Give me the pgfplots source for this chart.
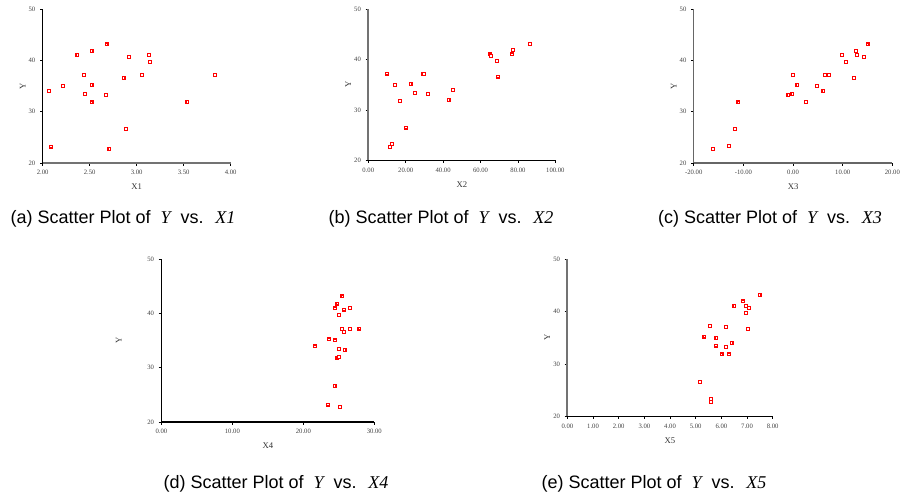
\documentclass[border=0pt]{standalone}
\usepackage{pgfplots}
\pgfplotsset{compat=1.18}
\usepackage{fontspec}
\setmainfont{Liberation Sans}
\newfontfamily\tms{Liberation Serif}

% hollow red square drawn from two fills
\pgfdeclareplotmark{hsq}{%
  \pgfpathrectangle{\pgfpoint{-1.5pt}{-1.5pt}}{\pgfpoint{3pt}{3pt}}%
  \pgfsetfillcolor{red}\pgfusepathqfill
  \pgfpathrectangle{\pgfpoint{-0.65pt}{-0.65pt}}{\pgfpoint{1.3pt}{1.3pt}}%
  \pgfsetfillcolor{white}\pgfusepathqfill}

\pgfplotsset{
  sp/.style={
    scale only axis,
    anchor=south west,
    axis x line*=bottom,
    axis y line*=left,
    axis line style={-},
    ymin=20, ymax=50,
    ytick={20,30,40,50},
    tick align=outside,
    major tick length=2pt,
    tick style={black, line width=0.5pt},
    /pgf/number format/assume math mode=true,
    ticklabel style={font=\tms\fontsize{5}{5}\selectfont, text=black!75},
    xticklabel style={/pgf/number format/.cd, fixed, fixed zerofill, precision=2},
    yticklabel style={/pgf/number format/.cd, fixed, precision=0},
    label style={font=\tms\fontsize{6.5}{7}\selectfont, text=black!80},
    xlabel style={at={(axis description cs:0.5,0)}, anchor=center, yshift=-18pt},
    ylabel style={at={(axis description cs:0,0.5)}, anchor=center, rotate=0, yshift=15pt},
    ylabel={Y},
  },
  pts/.style={only marks, mark=hsq, red},
}

\newcommand{\plotcap}[2]{\fontsize{13.5}{15}\selectfont(#1) Scatter Plot of \ {\tms\itshape Y} \ vs. \ {\tms\itshape X#2}}

\begin{document}
\begin{tikzpicture}
\path (0,0) rectangle (690pt,374.25pt);

% (a) X1
\begin{axis}[sp, at={(32pt,252pt)}, width=141pt, height=115.5pt,
  xmin=2, xmax=4, xtick={2,2.5,3,3.5,4}, xlabel={X1},
  x axis line style={line width=1pt, black!55}, y axis line style={line width=0.7pt, black}]
\addplot[pts] coordinates {
(2.07,34.0) (2.085,23.2) (2.22,35.0) (2.37,41.0) (2.44,37.2) (2.45,33.5)
(2.52,41.8) (2.52,35.2) (2.52,31.8) (2.68,43.1) (2.67,33.2) (2.71,22.7)
(2.86,36.6) (2.89,26.6) (2.92,40.7) (3.06,37.1) (3.13,41.0) (3.14,39.7)
(3.54,31.9) (3.83,37.1)
};
\end{axis}

% (b) X2
\begin{axis}[sp, at={(276.2pt,254pt)}, width=140.3pt, height=113.5pt,
  xmin=0, xmax=100, xtick={0,20,40,60,80,100}, xlabel={X2},
  x axis line style={line width=0.7pt, black}, y axis line style={line width=1.2pt, black!55}]
\addplot[pts] coordinates {
(10.2,37.2) (11.8,22.7) (12.5,23.2) (14.4,34.9) (16.9,31.7) (20.3,26.5)
(22.6,35.2) (24.9,33.4) (29.2,37.1) (29.9,37.1) (32.1,33.1) (42.9,31.9)
(45.1,33.9) (65.2,41.0) (65.7,40.7) (68.7,39.7) (69.3,36.6) (76.9,41.0)
(77.5,41.8) (86.4,43.1)
};
\end{axis}

% (c) X3
\begin{axis}[sp, at={(520.3pt,252pt)}, width=149pt, height=115.5pt,
  xmin=-20, xmax=20, xtick={-20,-10,0,10,20}, xlabel={X3},
  x axis line style={line width=0.9pt, black!60}, y axis line style={line width=1pt, black!60}]
\addplot[pts] coordinates {
(-16.1,22.7) (-12.9,23.3) (-11.7,26.6) (-11.0,31.8) (-0.94,33.2) (-0.13,33.5)
(-0.07,37.2) (0.87,35.2) (2.6,31.9) (4.8,35.0) (6.1,34.0) (6.4,37.1)
(7.2,37.1) (9.9,41.0) (10.6,39.7) (12.3,36.6) (12.7,41.8) (12.8,41.0)
(14.3,40.7) (15.0,43.1)
};
\end{axis}

% (d) X4
\begin{axis}[sp, at={(121pt,57.75pt)}, width=159.75pt, height=122.25pt,
  xmin=0, xmax=30, xtick={0,10,20,30}, xlabel={X4},
  ylabel style={yshift=17pt},
  x axis line style={line width=0.8pt, black}, y axis line style={line width=0.8pt, black}]
\addplot[pts] coordinates {
(21.6,33.9) (23.5,23.2) (23.6,35.2) (24.4,26.6) (24.5,35.0) (24.5,40.9)
(24.8,41.8) (24.8,31.8) (25.0,39.7) (25.0,33.5) (25.0,31.9) (25.2,22.8)
(25.4,37.1) (25.5,43.1) (25.7,36.6) (25.7,40.7) (25.8,33.2) (26.6,41.0)
(26.6,37.1) (27.9,37.2)
};
\end{axis}

% (e) X5
\begin{axis}[sp, at={(425.5pt,62pt)}, width=154pt, height=118pt,
  xmin=0, xmax=8, xtick={0,1,...,8}, xlabel={X5},
  x axis line style={line width=0.8pt, black}, y axis line style={line width=1.4pt, black!55}]
\addplot[pts] coordinates {
(5.17,26.5) (5.34,35.2) (5.56,37.2) (5.61,23.3) (5.61,22.7) (5.78,33.5)
(5.81,35.0) (6.01,31.8) (6.17,37.1) (6.19,37.1) (6.17,33.2) (6.31,31.8)
(6.40,34.0) (6.51,41.0) (6.84,41.9) (6.95,39.7) (6.97,41.0) (7.04,36.6)
(7.09,40.7) (7.49,43.1)
};
\end{axis}

\node at (92.25pt,210pt) {\plotcap{a}{1}};
\node at (330.75pt,210pt) {\plotcap{b}{2}};
\node at (577.5pt,210pt) {\plotcap{c}{3}};
\node at (207pt,11.25pt) {\plotcap{d}{4}};
\node at (490.5pt,11.25pt) {\plotcap{e}{5}};
\end{tikzpicture}
\end{document}
